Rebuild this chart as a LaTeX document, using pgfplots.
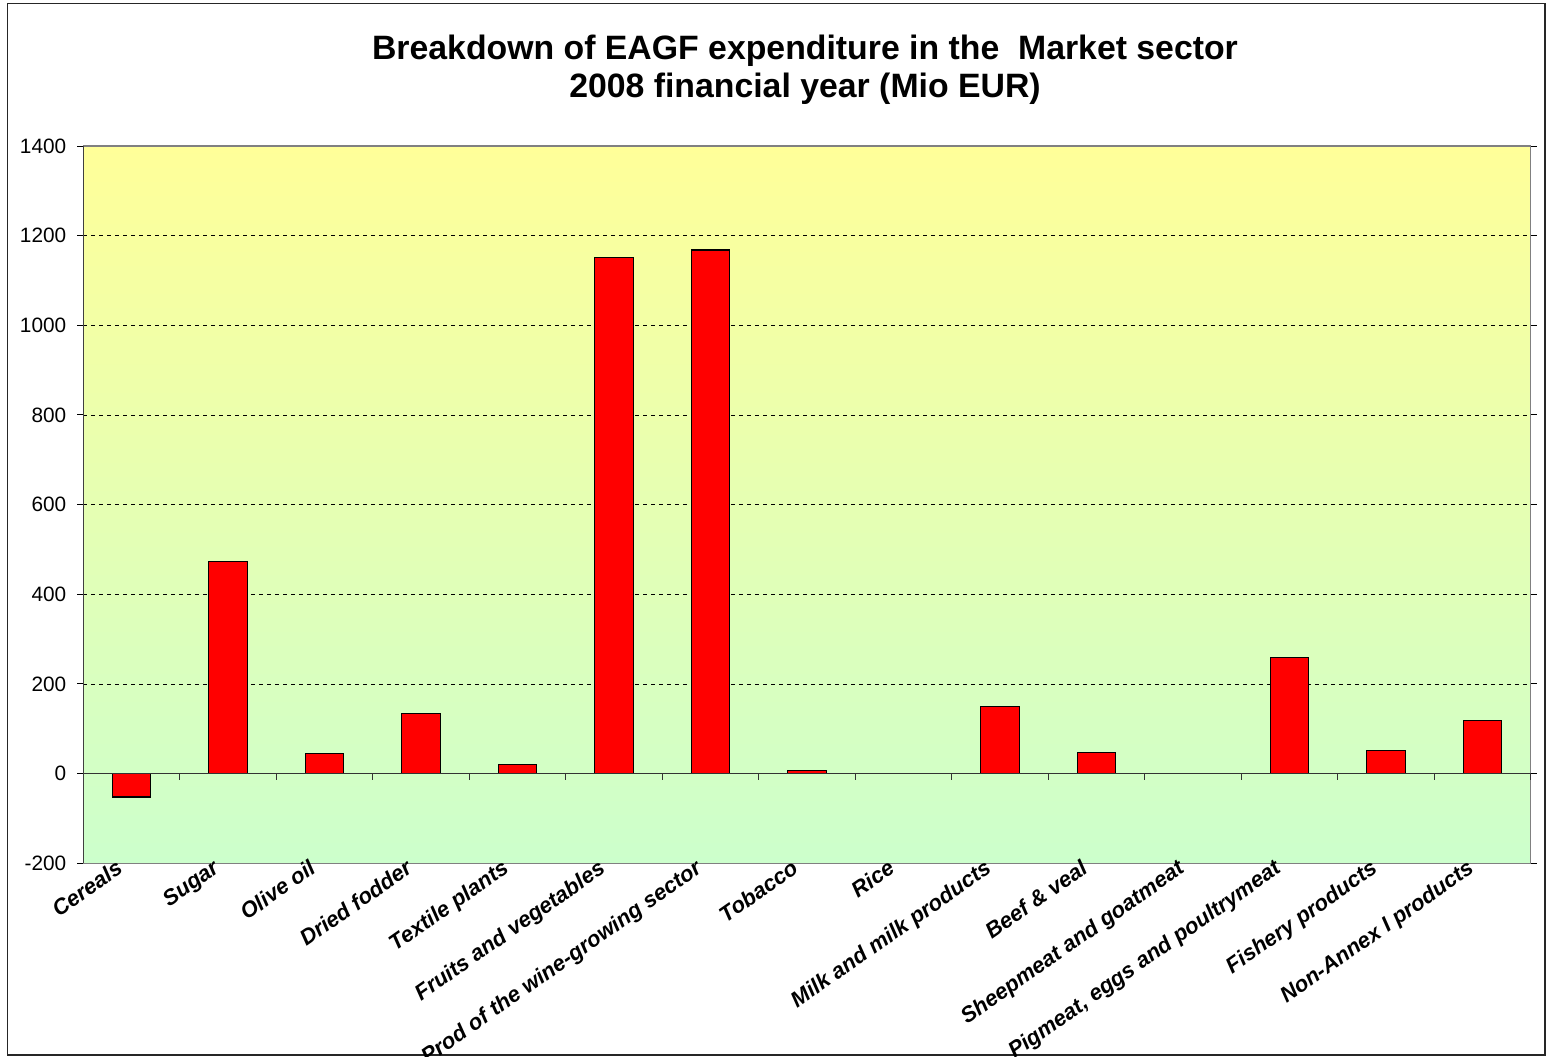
\documentclass[border=0pt]{standalone}
\usepackage{pgfplots}
\pgfplotsset{compat=1.18}
\usepackage{fontspec}
\setmainfont{Liberation Sans}
\definecolor{bgtop}{HTML}{FFFF99}
\definecolor{bgbot}{HTML}{CCFFCC}
\begin{document}
\begin{tikzpicture}
\useasboundingbox (-41.65pt,-96.35pt) rectangle (731.35pt,431.65pt);
\draw[black!85, line width=0.6pt] (-37.7pt,-95.85pt) rectangle (730.85pt,430pt);
\node[font=\fontsize{16.9}{19}\selectfont\bfseries, align=center] at (360.85pt,396.6pt)
  {Breakdown of EAGF expenditure in the\ \ Market sector\\2008 financial year (Mio EUR)};
\begin{axis}[
  at={(0pt,0pt)}, anchor=south west,
  scale only axis, width=723.7pt, height=358.65pt,
  xmin=-0.5, xmax=14.5, ymin=-200, ymax=1400,
  ytick={-200,0,200,400,600,800,1000,1200,1400},
  xtick={0,...,14},
  xticklabels={Cereals,Sugar,Olive oil,Dried fodder,Textile plants,Fruits and vegetables,Prod of the wine-growing sector,Tobacco,Rice,Milk and milk products,Beef \& veal,Sheepmeat and goatmeat,{Pigmeat, eggs and poultrymeat},Fishery products,Non-Annex I products},
  x tick style={draw=none},
  y tick style={black, line width=0.5pt},
  tick align=outside, major tick length=3pt,
  ymajorgrids, grid style={black, line width=0.4pt, dash pattern=on 2pt off 2pt},
  axis line style={gray, line width=0.6pt},
  axis background/.style={shade, top color=bgtop, bottom color=bgbot},
  /pgf/number format/assume math mode=true,
  /pgf/number format/1000 sep={},
  yticklabel style={font=\fontsize{10.4}{12}\selectfont, xshift=-2pt},
  xticklabel style={font=\fontsize{11}{13}\selectfont\bfseries\itshape, rotate=35, anchor=north east, inner sep=0pt, xshift=-3.6pt, yshift=9.35pt},
  ybar, bar width=19.25pt, bar shift=0pt,
  clip=false,
]
\addplot[fill=red, draw=black, line width=0.6pt] coordinates {
(0,-52) (1,474) (2,45) (3,135) (4,21) (5,1152) (6,1168) (7,7) (8,0) (9,149) (10,48) (11,0) (12,259) (13,51) (14,118)};
\draw[black!80, line width=0.6pt] (axis cs:-0.5,0) -- (axis cs:14.5,0);
\pgfplotsinvokeforeach{-0.5,0.5,1.5,2.5,3.5,4.5,5.5,6.5,7.5,8.5,9.5,10.5,11.5,12.5,13.5,14.5}{
  \draw[black!80, line width=0.5pt] (axis cs:#1,0) -- ++(0pt,-3pt);
}
\draw[black!75, line width=0.7pt] (rel axis cs:0,0) -- (rel axis cs:0,1);
\end{axis}
\end{tikzpicture}
\end{document}
